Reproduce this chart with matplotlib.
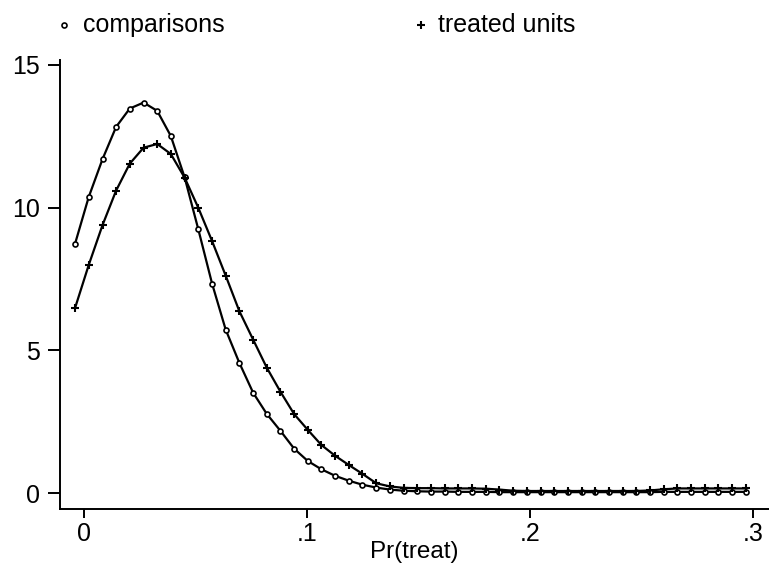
import matplotlib
matplotlib.use("Agg")
import matplotlib.pyplot as plt

# kdensity evaluation grid, Pr(treat)
pr_grid = [-0.0040, 0.0021, 0.0083, 0.0144, 0.0205, 0.0267, 0.0328, 0.0389, 0.0451, 0.0512,
           0.0574, 0.0635, 0.0696, 0.0758, 0.0819, 0.0880, 0.0942, 0.1003, 0.1064, 0.1126,
           0.1187, 0.1248, 0.1310, 0.1371, 0.1432, 0.1494, 0.1555, 0.1616, 0.1678, 0.1739,
           0.1801, 0.1862, 0.1923, 0.1985, 0.2046, 0.2107, 0.2169, 0.2230, 0.2291, 0.2353,
           0.2414, 0.2475, 0.2537, 0.2598, 0.2659, 0.2721, 0.2782, 0.2843, 0.2905, 0.2966]

dens_comparisons = [8.74, 10.37, 11.70, 12.83, 13.47, 13.68, 13.39, 12.51, 11.06, 9.25,
                    7.34, 5.73, 4.57, 3.52, 2.78, 2.19, 1.56, 1.13, 0.84, 0.61,
                    0.44, 0.30, 0.20, 0.13, 0.09, 0.07, 0.06, 0.06, 0.05, 0.05,
                    0.05, 0.04, 0.04, 0.04, 0.04, 0.04, 0.04, 0.04, 0.04, 0.04,
                    0.04, 0.04, 0.04, 0.05, 0.05, 0.05, 0.05, 0.05, 0.05, 0.05]

dens_treated = [6.49, 7.99, 9.39, 10.60, 11.54, 12.10, 12.23, 11.88, 11.05, 10.00,
                8.83, 7.62, 6.38, 5.38, 4.40, 3.56, 2.77, 2.22, 1.69, 1.31,
                0.99, 0.68, 0.35, 0.24, 0.19, 0.18, 0.18, 0.17, 0.17, 0.17,
                0.16, 0.13, 0.09, 0.08, 0.08, 0.08, 0.08, 0.08, 0.08, 0.08,
                0.08, 0.08, 0.10, 0.14, 0.17, 0.17, 0.17, 0.17, 0.17, 0.17]

x_ticks = [0, 0.1, 0.2, 0.3]
x_ticklabels = ["0", ".1", ".2", ".3"]
y_ticks = [0, 5, 10, 15]

plt.rcParams['font.family'] = ['Liberation Sans', 'DejaVu Sans']

fig = plt.figure(figsize=(7.69, 5.68), dpi=100)
ax = fig.add_axes([60 / 769, (568 - 509) / 568, 1 - 60 / 769, (509 - 60) / 568])

ax.plot(pr_grid, dens_comparisons, color='black', lw=1.6, marker='o', ms=3.6,
        mfc='white', mec='black', mew=1.2, clip_on=False)
ax.plot(pr_grid, dens_treated, color='black', lw=1.6, marker='+', ms=6,
        mew=1.5, clip_on=False)

ax.set_xlim(-0.01076, 0.307)
ax.set_ylim(-0.55, 15.17)

ax.spines['top'].set_visible(False)
ax.spines['right'].set_visible(False)
ax.spines['left'].set_linewidth(1.4)
ax.spines['bottom'].set_linewidth(1.4)

ax.set_xticks(x_ticks)
ax.set_xticklabels(x_ticklabels)
ax.set_yticks(y_ticks)
ax.tick_params(axis='x', direction='out', length=6.5, width=1.4, pad=3, labelsize=18)
ax.tick_params(axis='y', direction='out', length=8.5, width=1.4, pad=6, labelsize=18)
ax.set_xlabel("Pr(treat)", fontsize=17.5, labelpad=-4)

# legend row on top (Stata style)
fig.text(82.7 / 769, 1 - 31.7 / 568, "comparisons", fontsize=18, va='baseline', ha='left')
fig.text(438 / 769, 1 - 31.7 / 568, "treated units", fontsize=18, va='baseline', ha='left')
ax.plot([64 / 769], [1 - 24.5 / 568], transform=fig.transFigure, marker='o', ms=3.6,
        mfc='white', mec='black', mew=1.2, ls='none', clip_on=False)
ax.plot([421 / 769], [1 - 24.5 / 568], transform=fig.transFigure, marker='+', ms=6,
        mew=1.5, color='black', ls='none', clip_on=False)

fig.savefig("out.png", dpi=100)
